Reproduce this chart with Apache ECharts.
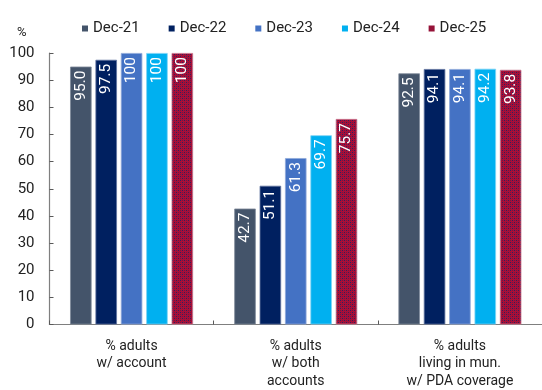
<!DOCTYPE html>
<html>
<head>
<meta charset="utf-8">
<script src="https://cdn.jsdelivr.net/npm/echarts@6/dist/echarts.min.js"></script>
<style>
  html, body { margin: 0; padding: 0; background: #fff; overflow: hidden; }
  #chart { width: 542px; height: 390px; }
</style>
</head>
<body>
<div id="chart"></div>
<script>
// Categories and series values (% of adults)
const categories = [
  '% adults\nw/ account',
  '% adults\nw/ both\naccounts',
  '% adults\nliving in mun.\nw/ PDA coverage'
];
const seriesNames = ['Dec-21', 'Dec-22', 'Dec-23', 'Dec-24', 'Dec-25'];
const dec21 = [95.0, 42.7, 92.5];
const dec22 = [97.5, 51.1, 94.1];
const dec23 = [100, 61.3, 94.1];
const dec24 = [100, 69.7, 94.2];
const dec25 = [100, 75.7, 93.8];
const yTicks = [0, 10, 20, 30, 40, 50, 60, 70, 80, 90, 100];

// Fine crimson fill speckled with navy for the last series
function makePattern() {
  const c = document.createElement('canvas');
  c.width = 4; c.height = 4;
  const ctx = c.getContext('2d');
  ctx.fillStyle = '#A80F38';
  ctx.fillRect(0, 0, 4, 4);
  ctx.fillStyle = '#2E2260';
  ctx.fillRect(0, 0, 1, 1);
  ctx.fillRect(2, 2, 1, 1);
  ctx.fillStyle = '#7A1240';
  ctx.fillRect(2, 0, 1, 1);
  ctx.fillRect(0, 2, 1, 1);
  return c;
}

const pattern = { image: makePattern(), repeat: 'repeat' };
const colors = ['#44546A', '#002060', '#4472C4', '#00B0F0', pattern];
const legendColors = ['#44546A', '#002060', '#4472C4', '#00B0F0', '#951238'];
const borderColors = ['#7D8999', '#5F73A0', '#8FAADB', '#7CD3F5', '#C97890'];
const values = [dec21, dec22, dec23, dec24, dec25];

const fmt = v => (v >= 100 ? '100' : v.toFixed(1));

const chart = echarts.init(document.getElementById('chart'), null, { renderer: 'canvas' });

const series = seriesNames.map((name, i) => ({
  name: name,
  type: 'bar',
  data: values[i],
  barWidth: 21.5,
  barGap: '18%',
  itemStyle: {
    color: colors[i],
    borderColor: borderColors[i],
    borderWidth: 0.8
  },
  label: {
    show: true,
    position: 'insideTop',
    rotate: 90,
    align: 'right',
    verticalAlign: 'middle',
    distance: 4,
    color: '#ffffff',
    fontFamily: 'Roboto',
    fontSize: 15.5,
    formatter: p => fmt(p.value)
  }
}));

chart.setOption({
  animation: false,
  textStyle: { fontFamily: 'Roboto' },
  legend: {
    data: seriesNames.map((n, i) => ({
      name: n,
      itemStyle: { color: legendColors[i], borderWidth: 0 }
    })),
    top: 16,
    left: 77,
    icon: 'rect',
    itemWidth: 6,
    itemHeight: 6,
    itemGap: 29,
    textStyle: { fontFamily: 'Roboto', fontSize: 15, color: '#222' }
  },
  graphic: [{
    type: 'text',
    left: 17,
    top: 26,
    style: { text: '%', font: '13px Roboto', fill: '#222' }
  }],
  grid: { left: 49.5, top: 53, width: 495, height: 277, containLabel: false },
  xAxis: {
    type: 'category',
    data: categories,
    axisLine: { lineStyle: { color: '#7f7f7f', width: 1.2 } },
    axisTick: { show: true, inside: true, length: 4, lineStyle: { color: '#595959' } },
    axisLabel: {
      color: '#222',
      fontFamily: 'Roboto',
      fontSize: 14,
      lineHeight: 17.5,
      margin: 13,
      interval: 0
    }
  },
  yAxis: {
    type: 'value',
    min: yTicks[0],
    max: yTicks[yTicks.length - 1],
    interval: 10,
    splitLine: { show: false },
    axisLine: { show: true, lineStyle: { color: '#7f7f7f', width: 1.2 } },
    axisTick: { show: true, inside: true, length: 4, lineStyle: { color: '#595959' } },
    axisLabel: {
      color: '#222',
      fontFamily: 'Roboto',
      fontSize: 15,
      margin: 15
    }
  },
  series: series
});
</script>
</body>
</html>
